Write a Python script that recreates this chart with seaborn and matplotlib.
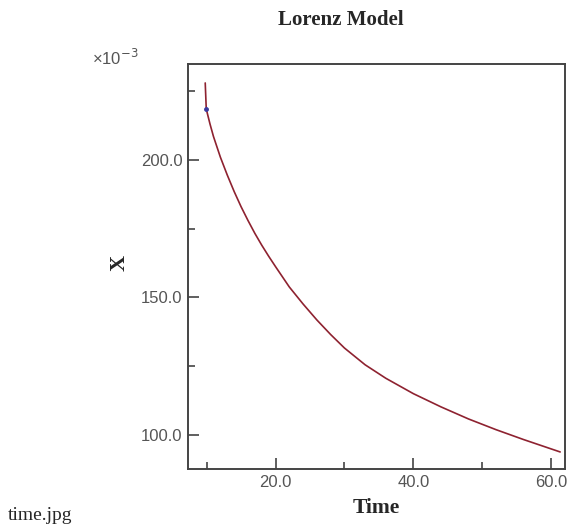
import pandas as pd
import matplotlib
matplotlib.use("Agg")
import matplotlib.pyplot as plt
import seaborn as sns
from matplotlib.ticker import MultipleLocator, FormatStrFormatter

# valores (X en unidades de 1e-3)
time = [9.8, 9.95, 10.5, 11, 12, 13, 14, 15, 16, 17, 18, 19, 20, 22, 24, 26,
        28, 30, 33, 36, 40, 44, 48, 52, 56, 60, 61.3]
x_vals = [228, 218.5, 213, 208.5, 201, 194.5, 188.5, 183, 178, 173.3, 169,
          165, 161.2, 153.8, 147.6, 141.8, 136.5, 131.6, 125.5, 120.6, 115.0,
          110.2, 105.8, 101.9, 98.3, 94.9, 93.8]

df = pd.DataFrame({"Time": time, "X": x_vals})

sns.set_style("ticks")
fig = plt.figure(figsize=(5.69, 5.29), dpi=100)
ax = fig.add_axes([188 / 569, 1 - 469 / 529, (565 - 188) / 569, (469 - 64) / 529])

sns.lineplot(data=df, x="Time", y="X", color="#8e2230", linewidth=1.2, ax=ax)
ax.plot([time[1]], [x_vals[1]], "o", color="#3a3aa0", markersize=2.5)

ax.set_xlim(7.3, 62.0)
ax.set_ylim(87.6, 234.9)

ax.xaxis.set_major_locator(MultipleLocator(20))
ax.xaxis.set_minor_locator(MultipleLocator(10))
ax.yaxis.set_major_locator(MultipleLocator(50))
ax.yaxis.set_minor_locator(MultipleLocator(25))
ax.xaxis.set_major_formatter(FormatStrFormatter("%.1f"))
ax.yaxis.set_major_formatter(FormatStrFormatter("%.1f"))

ax.tick_params(which="major", direction="in", length=8, width=1.2, color="#444444",
               labelsize=12, labelcolor="#555555", pad=4)
ax.tick_params(which="minor", direction="in", length=5, width=1.2, color="#444444")
for lbl in ax.get_xticklabels() + ax.get_yticklabels():
    lbl.set_family("Liberation Sans")

for s in ax.spines.values():
    s.set_color("#444444")
    s.set_linewidth(1.4)

ax.set_xlabel("")
ax.set_ylabel("")

serif = "Liberation Serif"
fig.text(341 / 569, 1 - 20 / 529, "Lorenz Model", ha="center", va="center",
         family=serif, fontsize=15, fontweight="bold")
fig.text(376 / 569, 1 - 508 / 529, "Time", ha="center", va="center",
         family=serif, fontsize=15.5, fontweight="bold")
fig.text(120 / 569, 1 - 263 / 529, "X", ha="center", va="center", rotation=90,
         family=serif, fontsize=16, fontweight="bold")
fig.text(92 / 569, 1 - 58 / 529, "×10$^{-3}$", ha="left", va="center",
         family="Liberation Sans", fontsize=12, color="#555555")
fig.text(40 / 569, 1 - 515 / 529, "time.jpg", ha="center", va="center",
         family=serif, fontsize=14)

fig.savefig("out.png", dpi=100)
